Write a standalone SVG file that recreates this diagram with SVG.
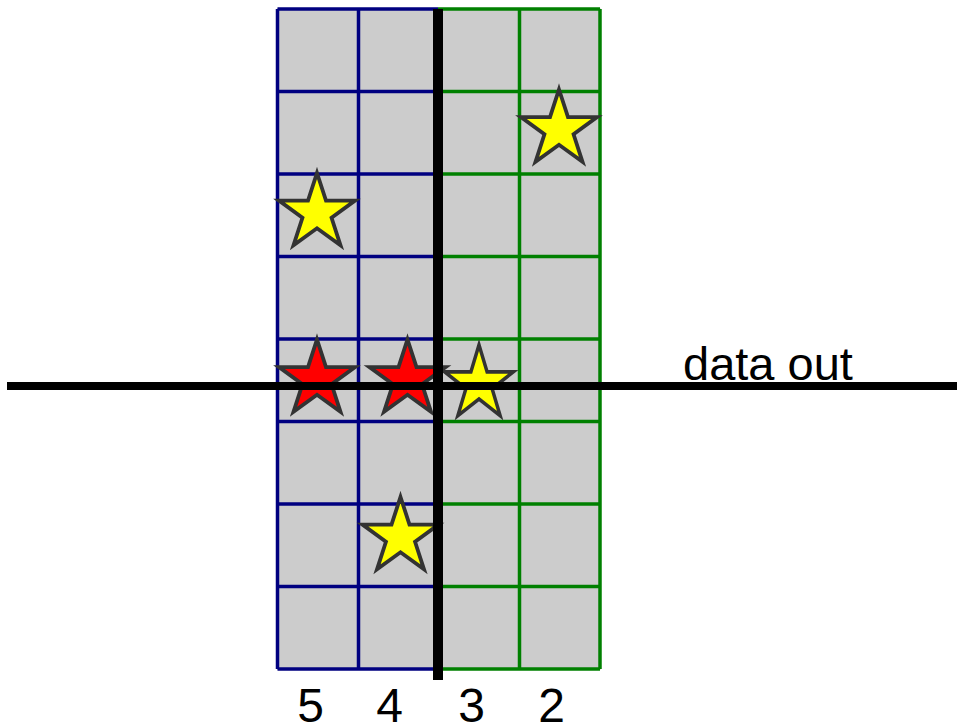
<svg xmlns="http://www.w3.org/2000/svg" width="957" height="726" viewBox="0 0 957 726">
<style>
.cell{fill:#cccccc;stroke:#999999;stroke-width:1}
.blue{stroke:#000080;stroke-width:3.5;fill:none}
.green{stroke:#008000;stroke-width:3.5;fill:none}
.ystar{fill:#ffff00;stroke:#333333;stroke-width:3.8;stroke-linejoin:miter}
.rstar{fill:#ff0000;stroke:#333333;stroke-width:3.8;stroke-linejoin:miter}
.bar{stroke:#000000;fill:none}
text{font-family:"Liberation Sans",Arial,sans-serif;fill:#000000}
</style>
<defs>
<path id="star" d="M0,-40 L8.99,-12.38 L38.04,-12.36 L14.55,4.73 L23.51,32.36 L0,15.3 L-23.51,32.36 L-14.55,4.73 L-38.04,-12.36 L-8.99,-12.38 Z"/>
</defs>
<g id="grid">
<g id="cells">
<rect class="cell" x="277.5" y="9" width="322.5" height="660"/>
</g>
<g id="blue-block">
<path class="blue" d="M277.5,9 V669 M358.5,9 V669 M277.5,9 H438 M277.5,91.5 H438 M277.5,174 H438 M277.5,256.5 H438 M277.5,339 H438 M277.5,421.5 H438 M277.5,504 H438 M277.5,586.5 H438 M277.5,669 H438"/>
</g>
<g id="green-block">
<path class="green" d="M519.5,9 V669 M600,9 V669 M438,9 H600 M438,91.5 H600 M438,174 H600 M438,256.5 H600 M438,339 H600 M438,421.5 H600 M438,504 H600 M438,586.5 H600 M438,669 H600"/>
</g>
</g>
<g id="stars">
<use id="star-a" href="#star" class="ystar" transform="translate(559,129.5)"/>
<use id="star-b" href="#star" class="ystar" transform="translate(317,213)"/>
<use id="star-c" href="#star" class="rstar" transform="translate(317,379.5)"/>
<use id="star-d" href="#star" class="rstar" transform="translate(407.5,379.5)"/>
<use id="star-e" href="#star" class="ystar" transform="translate(479,384) scale(0.9,0.98)"/>
<use id="star-f" href="#star" class="ystar" transform="translate(400.5,537)"/>
</g>
<g id="connectors">
<line class="bar" x1="7" y1="386" x2="957" y2="386" stroke-width="8"/>
<line class="bar" x1="438" y1="9" x2="438" y2="680" stroke-width="10"/>
</g>
<g id="labels">
<text x="683" y="380" font-size="47">data out</text>
<text x="310.5" y="722" font-size="48" text-anchor="middle">5</text>
<text x="389.5" y="722" font-size="48" text-anchor="middle">4</text>
<text x="471.5" y="722" font-size="48" text-anchor="middle">3</text>
<text x="551.5" y="722" font-size="48" text-anchor="middle">2</text>
</g>
</svg>
